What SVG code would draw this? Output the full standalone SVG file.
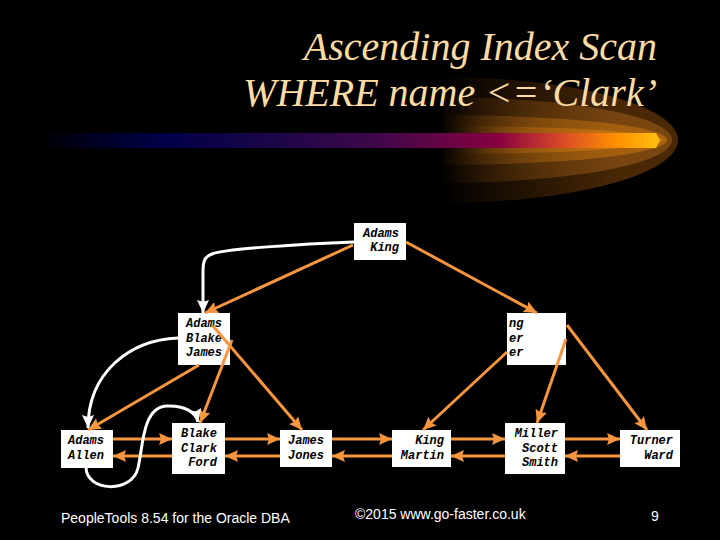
<svg xmlns="http://www.w3.org/2000/svg" width="720" height="540" viewBox="0 0 720 540">
<style>
.title{font-family:"Liberation Serif",serif;font-style:italic;font-size:40px;fill:#FCDCA4}
.nbox{fill:#FFFFFF}
.ntx{font-family:"Liberation Mono",monospace;font-style:italic;font-weight:bold;font-size:12px;fill:#000000}
.end{text-anchor:end}
.oc{fill:none;stroke:#F7963F;stroke-width:3}
.wc{fill:none;stroke:#FFFFFF;stroke-width:3}
.foot{font-family:"Liberation Sans",Arial,sans-serif;font-size:14px;fill:#FFFFFF}
</style>
<defs>
<marker id="ao" markerUnits="userSpaceOnUse" markerWidth="14" markerHeight="13" refX="13" refY="6" orient="auto">
<path d="M0,0 L13,6 L0,12 L2,6 z" fill="#F7963F"/>
</marker>
<marker id="aw" markerUnits="userSpaceOnUse" markerWidth="14" markerHeight="13" refX="13" refY="6" orient="auto">
<path d="M0,0 L13,6 L0,12 L2,6 z" fill="#FFFFFF"/>
</marker>
<linearGradient id="g1" gradientUnits="userSpaceOnUse" x1="440" y1="0" x2="620" y2="0">
<stop offset="0" stop-color="#4a2806" stop-opacity="0"/>
<stop offset="1" stop-color="#4a2806"/>
</linearGradient>
<linearGradient id="g2" gradientUnits="userSpaceOnUse" x1="440" y1="0" x2="630" y2="0">
<stop offset="0" stop-color="#7a4610" stop-opacity="0"/>
<stop offset="1" stop-color="#7a4610"/>
</linearGradient>
<linearGradient id="g3" gradientUnits="userSpaceOnUse" x1="440" y1="0" x2="640" y2="0">
<stop offset="0" stop-color="#a8620e" stop-opacity="0"/>
<stop offset="1" stop-color="#a8620e"/>
</linearGradient>
<linearGradient id="g4" gradientUnits="userSpaceOnUse" x1="460" y1="0" x2="650" y2="0">
<stop offset="0" stop-color="#c87410" stop-opacity="0"/>
<stop offset="1" stop-color="#c87410"/>
</linearGradient>
<linearGradient id="bar" gradientUnits="userSpaceOnUse" x1="40" y1="0" x2="660" y2="0">
<stop offset="0" stop-color="#000000"/>
<stop offset="0.08" stop-color="#000020"/>
<stop offset="0.2" stop-color="#000048"/>
<stop offset="0.38" stop-color="#1c0648"/>
<stop offset="0.55" stop-color="#40084a"/>
<stop offset="0.74" stop-color="#880040"/>
<stop offset="0.84" stop-color="#d84828"/>
<stop offset="0.93" stop-color="#ff9000"/>
<stop offset="1" stop-color="#ffc010"/>
</linearGradient>
</defs>
<rect x="0" y="0" width="720" height="540" fill="#000000"/>
<g id="glow">
<ellipse cx="440" cy="140" rx="238" ry="63" fill="url(#g1)"/>
<ellipse cx="440" cy="140" rx="232" ry="43" fill="url(#g2)"/>
<ellipse cx="440" cy="140" rx="227" ry="25" fill="url(#g3)"/>
<ellipse cx="440" cy="140" rx="223" ry="14" fill="url(#g4)"/>
<path d="M40,133 L656,133 L660,140.5 L656,148 L40,148 z" fill="url(#bar)"/>
</g>
<g id="title">
<text class="title" x="657" y="60" text-anchor="end">Ascending Index Scan</text>
<text class="title" x="657" y="106" text-anchor="end">WHERE name &lt;=‘Clark’</text>
</g>
<g id="node-root">
<rect class="nbox" x="354" y="223" width="52" height="37"/>
<text class="ntx end" x="399" y="237">Adams</text>
<text class="ntx end" x="399" y="251">King</text>
</g>
<g id="node-l2-left">
<rect class="nbox" x="178" y="313" width="52" height="52"/>
<text class="ntx" x="186" y="327">Adams</text>
<text class="ntx" x="186" y="342">Blake</text>
<text class="ntx" x="186" y="356">James</text>
</g>
<g id="node-l2-right">
<rect class="nbox" x="507" y="313" width="59" height="52"/>
<text class="ntx" x="509" y="327">ng</text>
<text class="ntx" x="509" y="342">er</text>
<text class="ntx" x="509" y="356">er</text>
</g>
<g id="leaf-adams-allen">
<rect class="nbox" x="61" y="430" width="52" height="38"/>
<text class="ntx" x="68" y="444">Adams</text>
<text class="ntx" x="68" y="459">Allen</text>
</g>
<g id="leaf-blake-clark-ford">
<rect class="nbox" x="172" y="423" width="53" height="51"/>
<text class="ntx end" x="217" y="437">Blake</text>
<text class="ntx end" x="217" y="452">Clark</text>
<text class="ntx end" x="217" y="466">Ford</text>
</g>
<g id="leaf-james-jones">
<rect class="nbox" x="280" y="430" width="52" height="37"/>
<text class="ntx" x="288" y="444">James</text>
<text class="ntx" x="288" y="459">Jones</text>
</g>
<g id="leaf-king-martin">
<rect class="nbox" x="392" y="430" width="59" height="37"/>
<text class="ntx end" x="444" y="444">King</text>
<text class="ntx end" x="444" y="459">Martin</text>
</g>
<g id="leaf-miller-scott-smith">
<rect class="nbox" x="505" y="423" width="60" height="51"/>
<text class="ntx end" x="558" y="437">Miller</text>
<text class="ntx end" x="558" y="452">Scott</text>
<text class="ntx end" x="558" y="466">Smith</text>
</g>
<g id="leaf-turner-ward">
<rect class="nbox" x="620" y="430" width="60" height="37"/>
<text class="ntx end" x="673" y="444">Turner</text>
<text class="ntx end" x="673" y="459">Ward</text>
</g>
<g id="connectors">
<path class="oc" marker-end="url(#ao)" d="M353,245 L205,313"/>
<path class="oc" marker-end="url(#ao)" d="M406,242 L537,313"/>
<path class="oc" marker-end="url(#ao)" d="M199,365 L88,430"/>
<path class="oc" marker-end="url(#ao)" d="M232,340 L200,423"/>
<path class="oc" marker-end="url(#ao)" d="M213,326 L302,430"/>
<path class="oc" marker-end="url(#ao)" d="M507,352 L423,430"/>
<path class="oc" marker-end="url(#ao)" d="M566,339 L537,423"/>
<path class="oc" marker-end="url(#ao)" d="M567,325 L647,430"/>
<path class="oc" marker-end="url(#ao)" d="M113,439 L172,439"/>
<path class="oc" marker-end="url(#ao)" d="M172,456 L113,456"/>
<path class="oc" marker-end="url(#ao)" d="M225,439 L280,439"/>
<path class="oc" marker-end="url(#ao)" d="M280,456 L225,456"/>
<path class="oc" marker-end="url(#ao)" d="M332,439 L392,439"/>
<path class="oc" marker-end="url(#ao)" d="M392,456 L332,456"/>
<path class="oc" marker-end="url(#ao)" d="M451,439 L505,439"/>
<path class="oc" marker-end="url(#ao)" d="M505,456 L451,456"/>
<path class="oc" marker-end="url(#ao)" d="M565,439 L620,439"/>
<path class="oc" marker-end="url(#ao)" d="M620,456 L565,456"/>
<path class="wc" marker-end="url(#aw)" d="M354,242 C300,244 225,249 212,254 C204,257 203,262 203,272 L203,313"/>
<path class="wc" marker-end="url(#aw)" d="M178,338 C130,340 88,372 88,428"/>
<path class="wc" marker-end="url(#aw)" d="M86,467 C86,492 132,494 138,468 C143,448 142,408 166,406 C184,405 196,412 198,422"/>
</g>
<g id="footer">
<text class="foot" x="61" y="523">PeopleTools 8.54 for the Oracle DBA</text>
<text class="foot" x="355" y="519">©2015 www.go-faster.co.uk</text>
<text class="foot" x="651" y="521">9</text>
</g>
</svg>
